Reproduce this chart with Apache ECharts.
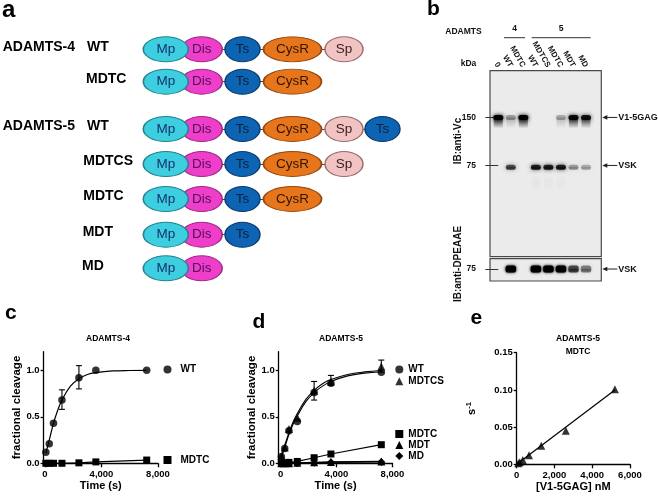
<!DOCTYPE html>
<html><head><meta charset="utf-8">
<script src="https://cdn.jsdelivr.net/npm/echarts@6/dist/echarts.min.js"></script>
<style>html,body{margin:0;padding:0;background:#fff}#c{width:658px;height:499px}</style>
</head><body><div id="c"></div>
<script>
const FONT = "'Liberation Sans', Arial, Helvetica, sans-serif";

// ---------- Panel a : domain organisation ----------
const domainKeys = ['Mp','Dis','Ts','CysR','Sp','Ts'];
const domainPos = [165.8, 201.7, 242.5, 292.5, 344, 382.5];
const constructFamily = ['ADAMTS-4','','ADAMTS-5','','','',''];
const constructName = ['WT','MDTC','WT','MDTCS','MDTC','MDT','MD'];
const constructRow = [49.3, 81.7, 129, 164, 199, 234.7, 268.3];
const constructDomains = [5,4,6,5,4,3,2];

// ---------- Panel b : western blot ----------
const laneNames = ['0','WT','MDTC','WT','MDTCS','MDTC','MDT','MD'];
const markerKDa = [150, 75];
const bandV1 = [1.0, 0.3, 1.0, 0, 0, 0.25, 0.92, 0.85];
const bandVSK = [0, 0.6, 0, 0.8, 0.8, 0.8, 0.3, 0.25];
const bandFaint = [0, 0, 0, 0.018, 0.015, 0.015, 0, 0];
const bandDPEAAE = [0, 1.0, 0, 1.0, 1.0, 1.0, 0.6, 0.4];
const rightLabelsVc = ['V1-5GAG', 'VSK'];
const rightLabelsDP = ['VSK'];

// ---------- Panel c : ADAMTS-4 ----------
const cTime = [60, 300, 600, 1200, 2400, 3600, 7200];
const cWT = [0.12, 0.21, 0.43, 0.68, 0.92, 1.0, 1.0];
const cMDTC = [0, 0, 0, 0, 0.005, 0.015, 0.035];
const cWTErr = [[1200, 0.58, 0.79], [2400, 0.80, 1.05]];
const cFitT = [60, 300, 600, 900, 1200, 1800, 2400, 3000, 3600, 4800, 6000, 7200];
const cFitY = [0.11, 0.25, 0.43, 0.57, 0.68, 0.83, 0.91, 0.955, 0.975, 0.993, 0.998, 1.0];

// ---------- Panel d : ADAMTS-5 ----------
const dTime = [60, 300, 600, 1200, 2400, 3600, 7200];
const dWT = [0.07, 0.16, 0.35, 0.45, 0.76, 0.86, 0.98];
const dMDTCS = [0.08, 0.17, 0.37, 0.49, 0.78, 0.88, 1.04];
const dMDTC = [0, 0.005, 0.01, 0.02, 0.06, 0.1, 0.2];
const dMDT = [0, 0, 0, 0.005, 0.01, 0.015, 0.02];
const dMD = [0, 0, 0, 0, 0.005, 0.01, 0.015];
const dErr = [[2400, 0.68, 0.88], [3600, 0.84, 0.945], [7200, 0.98, 1.11]];
const dFitT = [60, 300, 600, 900, 1200, 1800, 2400, 3000, 3600, 4800, 6000, 7200];
const dFitWT = [0.06, 0.17, 0.31, 0.42, 0.51, 0.66, 0.76, 0.83, 0.88, 0.94, 0.97, 0.985];
const dFitMDTCS = [0.075, 0.19, 0.33, 0.445, 0.535, 0.685, 0.785, 0.855, 0.9, 0.955, 0.983, 0.998];

// ---------- Panel e : kcat/Km ----------
const eConc = [81, 163, 325, 650, 1300, 2600, 5200];
const eRate = [0.0013, 0.0027, 0.0058, 0.012, 0.025, 0.045, 0.101];
const eFitX = [0, 5200];
const eFitY = [0, 0.1];

// ----- tick values -----
const timeTicks = [0, 4000, 8000];
const fracTicks = [0, 0.5, 1.0];
const concTicks = [0, 2000, 4000, 6000];
const rateTicks = [0, 0.05, 0.10, 0.15];

// ---------- styles ----------
const domStyle = [
  {w:45,h:25,fill:'#3DCFE0',stroke:'#23838f',text:'#17306e'},
  {w:41,h:25,fill:'#EF3EC9',stroke:'#9d2b86',text:'#4e0f5a'},
  {w:35,h:25,fill:'#0C64B2',stroke:'#0a3a6e',text:'#0b1f3f'},
  {w:58,h:25,fill:'#E7751C',stroke:'#93480f',text:'#2e1505'},
  {w:38,h:25,fill:'#F1C3C3',stroke:'#9c6b6b',text:'#3b1d1d'},
  {w:35,h:25,fill:'#0C64B2',stroke:'#0a3a6e',text:'#0b1f3f'}
];
const ELLIPSE = 'path://M0,25C0,11.19 22.39,0 50,0C77.61,0 100,11.19 100,25C100,38.81 77.61,50 50,50C22.39,50 0,38.81 0,25Z';
const zip = (a, b) => a.map((v, i) => [v, b[i]]);
const log10 = Math.log10;
const BK = '#000';

const domainOrder = [1, 0, 2, 3, 4, 5];
const domainSeries = domainOrder.map(d => {
  const st = domStyle[d];
  const data = [];
  constructRow.forEach((y, r) => { if (constructDomains[r] > d) data.push([domainPos[d], y]); });
  return {
    type: 'scatter', xAxisIndex: 0, yAxisIndex: 0, silent: true,
    symbol: ELLIPSE, symbolSize: [st.w, st.h], data,
    itemStyle: {color: st.fill, borderColor: st.stroke, borderWidth: 1.2, opacity: 1},
    label: {show: true, position: 'inside', formatter: domainKeys[d], color: st.text,
      fontSize: 13.5, fontFamily: FONT},
    z: 3
  };
});
const connectorSeries = {
  type: 'lines', coordinateSystem: 'cartesian2d', xAxisIndex: 0, yAxisIndex: 0, silent: true,
  data: constructRow.map((y, r) => ({coords: [[domainPos[1], y], [domainPos[constructDomains[r]-1], y]]})),
  lineStyle: {color: '#444', width: 1, opacity: 1}, z: 2
};

function bandData(arr, kda, kind) { return arr.map((a, i) => [i, log10(kda), a, kind]); }
function renderBand(params, api) {
  const a = api.value(2), kind = api.value(3);
  if (!(a > 0)) return null;
  const p = api.coord([api.value(0), api.value(1)]);
  const ch = [];
  const rgba = al => 'rgba(0,0,0,' + Math.min(1, al) + ')';
  if (kind === 3) {
    ch.push({type:'rect', shape:{x:p[0]-4.5, y:p[1]-4, width:9, height:12, r:3},
      style:{fill:rgba(a), shadowBlur:6, shadowColor:rgba(a)}});
    return {type:'group', children: ch};
  }
  let w = 10, h = 5, smear = 3, blur = 4;
  if (kind === 0) { smear = 11; }
  if (kind === 2) { w = 10.5; h = 7; smear = 4; blur = 3; }
  ch.push({type:'rect', shape:{x:p[0]-w/2+0.5, y:p[1], width:w-1, height:smear},
    style:{fill:{type:'linear', x:0, y:0, x2:0, y2:1, colorStops:[
      {offset:0, color:rgba(0.75*a)}, {offset:1, color:'rgba(0,0,0,0)'}]},
      shadowBlur:4, shadowColor:rgba(0.4*a)}});
  ch.push({type:'rect', shape:{x:p[0]-w/2, y:p[1]-h/2, width:w, height:h, r:2.5},
    style:{fill:rgba(a), shadowBlur:blur, shadowColor:rgba(a)}});
  return {type:'group', children: ch};
}
function rightLabelRenderer(names) {
  return function (params, api) {
    const p = api.coord([api.value(0), api.value(1)]);
    const x = p[0], y = p[1];
    return {type:'group', children:[
      {type:'line', shape:{x1:x+3, y1:y, x2:x+16, y2:y}, style:{stroke:'#222', lineWidth:1}},
      {type:'polygon', shape:{points:[[x+1,y],[x+6,y-2.3],[x+6,y+2.3]]}, style:{fill:'#222'}},
      {type:'text', style:{x:x+17, y:y, text:names[params.dataIndex], fill:'#111',
        font:'bold 9px '+FONT, verticalAlign:'middle', align:'left'}}
    ]};
  };
}
function renderErr(params, api) {
  const t = api.value(0);
  const lo = api.coord([t, api.value(1)]), hi = api.coord([t, api.value(2)]);
  const s = {stroke: BK, lineWidth: 1.1};
  return {type:'group', children:[
    {type:'line', shape:{x1:lo[0], y1:lo[1], x2:hi[0], y2:hi[1]}, style:s},
    {type:'line', shape:{x1:lo[0]-3, y1:lo[1], x2:lo[0]+3, y2:lo[1]}, style:s},
    {type:'line', shape:{x1:hi[0]-3, y1:hi[1], x2:hi[0]+3, y2:hi[1]}, style:s}
  ]};
}

const axisLineS = {onZero:false, lineStyle:{color:BK, width:1.3}};
const tickS = (vals, len) => ({show:true, customValues: vals, length: len, lineStyle:{color:BK, width:1.3}});
const labelS = (vals, fmt, margin) => ({customValues: vals, formatter: fmt, fontSize: 9.5, fontWeight:'bold',
  color: BK, fontFamily: FONT, margin: margin});
const nameS = {fontSize: 11, fontWeight: 'bold', color: BK, fontFamily: FONT};
const thousands = v => v === 0 ? '0' : v.toLocaleString('en-US');
const hidden = {show:false};

const legendBase = {padding:0, itemWidth:8, itemHeight:8, selectedMode:false, orient:'vertical',
  textStyle:{fontSize:10, fontWeight:'bold', color:BK, fontFamily:FONT}};

const option = {
  animation: false,
  backgroundColor: '#fff',
  textStyle: {fontFamily: FONT},
  grid: [
    {left:0, top:0, width:400, height:300},
    {left:490, top:70.7, width:111.3, height:186, show:true, backgroundColor:'#ebebeb', borderColor:'#4a4a4a', borderWidth:1.2},
    {left:490, top:258.7, width:111.3, height:22.3, show:true, backgroundColor:'#ebebeb', borderColor:'#4a4a4a', borderWidth:1.2},
    {left:43.6, top:351.7, width:114.4, height:111.6},
    {left:278.7, top:351.7, width:113.8, height:111.6},
    {left:516.7, top:352.7, width:113.3, height:111.6}
  ],
  xAxis: [
    {gridIndex:0, type:'value', min:0, max:400, show:false},
    {gridIndex:1, type:'value', position:'top', min:-0.66, max:8.22,
      axisLine:hidden, axisTick:hidden, splitLine:hidden,
      axisLabel:{customValues:[0,1,2,3,4,5,6,7], formatter: v => laneNames[v], rotate:60, margin:4,
        fontSize:8, fontWeight:'bold', color:'#111', fontFamily:FONT}},
    {gridIndex:2, type:'value', min:-0.66, max:8.22, show:false},
    {gridIndex:3, type:'value', min:-100, max:8000, axisLine:axisLineS, axisTick:tickS(timeTicks,4),
      axisLabel:labelS(timeTicks, thousands, 6), splitLine:hidden,
      name:'Time (s)', nameLocation:'middle', nameGap:14, nameTextStyle:nameS},
    {gridIndex:4, type:'value', min:-130, max:8000, axisLine:axisLineS, axisTick:tickS(timeTicks,4),
      axisLabel:labelS(timeTicks, thousands, 6), splitLine:hidden,
      name:'Time (s)', nameLocation:'middle', nameGap:14, nameTextStyle:nameS},
    {gridIndex:5, type:'value', min:0, max:6000, axisLine:axisLineS, axisTick:tickS(concTicks,4),
      axisLabel:labelS(concTicks, thousands, 6), splitLine:hidden,
      name:'[V1-5GAG] nM', nameLocation:'middle', nameGap:14, nameTextStyle:nameS}
  ],
  yAxis: [
    {gridIndex:0, type:'value', min:0, max:300, inverse:true, show:false},
    {gridIndex:1, type:'value', min:1.303, max:2.469, axisLine:hidden, splitLine:hidden,
      axisTick:{show:true, customValues: markerKDa.map(log10), length:13, lineStyle:{color:'#333', width:1}},
      axisLabel:{customValues: markerKDa.map(log10), formatter: v => String(Math.round(Math.pow(10, v))),
        margin:14, fontSize:8.5, fontWeight:'bold', color:'#111', fontFamily:FONT}},
    {gridIndex:2, type:'value', min:1.80, max:1.94, axisLine:hidden, splitLine:hidden,
      axisTick:{show:true, customValues:[log10(75)], length:13, lineStyle:{color:'#333', width:1}},
      axisLabel:{customValues:[log10(75)], formatter: v => String(Math.round(Math.pow(10, v))),
        margin:14, fontSize:8.5, fontWeight:'bold', color:'#111', fontFamily:FONT}},
    {gridIndex:3, type:'value', min:0, max:1.2, axisLine:axisLineS, axisTick:tickS(fracTicks,3),
      axisLabel:labelS(fracTicks, v => v.toFixed(1), 4), splitLine:hidden,
      name:'fractional cleavage', nameLocation:'middle', nameGap:20, nameTextStyle:{...nameS, fontSize:11.5}},
    {gridIndex:4, type:'value', min:0, max:1.2, axisLine:axisLineS, axisTick:tickS(fracTicks,3),
      axisLabel:labelS(fracTicks, v => v.toFixed(1), 4), splitLine:hidden,
      name:'fractional cleavage', nameLocation:'middle', nameGap:17, nameTextStyle:{...nameS, fontSize:11.5}},
    {gridIndex:5, type:'value', min:0, max:0.15, axisLine:axisLineS, axisTick:tickS(rateTicks,3),
      axisLabel:labelS(rateTicks, v => v.toFixed(2), 4), splitLine:hidden,
      name:'{s|s}{sup|-1}', nameLocation:'middle', nameGap:38,
      nameTextStyle:{...nameS, rich:{s:{fontSize:11, fontWeight:'bold', fontFamily:FONT},
        sup:{fontSize:7.5, fontWeight:'bold', fontFamily:FONT, verticalAlign:'top', padding:[0,0,6,0]}}}}
  ],
  legend: [
    {...legendBase, data:[{name:'WT', icon:'circle'}], left:163.5, top:364.5,
      textStyle:{...legendBase.textStyle, padding:[0,0,0,4]}},
    {...legendBase, data:[{name:'MDTC', icon:'rect'}], left:163.5, top:455,
      textStyle:{...legendBase.textStyle, padding:[0,0,0,4]}},
    {...legendBase, data:[{name:'WT', icon:'circle'}, {name:'MDTCS', icon:'triangle'}], left:395.3, top:364.5, itemGap:1.8},
    {...legendBase, data:[{name:'MDTC', icon:'rect'}, {name:'MDT', icon:'triangle'}, {name:'MD', icon:'diamond'}],
      left:395.3, top:429, itemGap:1}
  ],
  graphic: [
    {type:'text', style:{x:2, y:10, text:'a', font:'bold 24px '+FONT, fill:BK, verticalAlign:'middle'}},
    {type:'text', style:{x:427, y:9.5, text:'b', font:'bold 21px '+FONT, fill:BK, verticalAlign:'middle'}},
    {type:'text', style:{x:5, y:313.5, text:'c', font:'bold 21px '+FONT, fill:BK, verticalAlign:'middle'}},
    {type:'text', style:{x:252.5, y:322, text:'d', font:'bold 21px '+FONT, fill:BK, verticalAlign:'middle'}},
    {type:'text', style:{x:470.5, y:318, text:'e', font:'bold 21px '+FONT, fill:BK, verticalAlign:'middle'}},
    ...constructRow.flatMap((y, r) => {
      const out = [];
      const ly = y - 2.5;
      if (constructFamily[r]) out.push({type:'text', style:{x:2.7, y:ly, text:constructFamily[r], font:'bold 14px '+FONT, fill:BK, verticalAlign:'middle'}});
      const nx = constructFamily[r] ? 87 : [86, 86, 86, 83.3, 83.3, 82.7, 82][r];
      out.push({type:'text', style:{x:nx, y:ly, text:constructName[r], font:'bold 14px '+FONT, fill:BK, verticalAlign:'middle'}});
      return out;
    }),
    {type:'text', x:458, y:141, rotation:Math.PI/2, style:{x:0, y:0, text:'IB:anti-Vc', font:'bold 10px '+FONT, fill:'#111', align:'center', verticalAlign:'middle'}},
    {type:'text', x:458, y:264, rotation:Math.PI/2, style:{x:0, y:0, text:'IB:anti-DPEAAE', font:'bold 10px '+FONT, fill:'#111', align:'center', verticalAlign:'middle'}},
    {type:'text', style:{x:463.5, y:31.5, text:'ADAMTS', font:'bold 8.5px '+FONT, fill:'#111', align:'center', verticalAlign:'middle'}},
    {type:'text', style:{x:514.5, y:29, text:'4', font:'bold 8.5px '+FONT, fill:'#111', align:'center', verticalAlign:'middle'}},
    {type:'text', style:{x:561, y:29, text:'5', font:'bold 8.5px '+FONT, fill:'#111', align:'center', verticalAlign:'middle'}},
    {type:'line', shape:{x1:504, y1:37.7, x2:525, y2:37.7}, style:{stroke:'#333', lineWidth:1}},
    {type:'line', shape:{x1:531.7, y1:37.7, x2:590.7, y2:37.7}, style:{stroke:'#333', lineWidth:1}},
    {type:'text', style:{x:468.5, y:63.3, text:'kDa', font:'bold 8.5px '+FONT, fill:'#111', align:'center', verticalAlign:'middle'}},
    {type:'text', style:{x:108, y:339, text:'ADAMTS-4', font:'bold 8.5px '+FONT, fill:BK, align:'center', verticalAlign:'middle'}},
    {type:'text', style:{x:341, y:339, text:'ADAMTS-5', font:'bold 8.5px '+FONT, fill:BK, align:'center', verticalAlign:'middle'}},
    {type:'text', style:{x:578, y:339, text:'ADAMTS-5', font:'bold 8.5px '+FONT, fill:BK, align:'center', verticalAlign:'middle'}},
    {type:'text', style:{x:578, y:351.7, text:'MDTC', font:'bold 8.5px '+FONT, fill:BK, align:'center', verticalAlign:'middle'}}
  ],
  series: [
    connectorSeries,
    ...domainSeries,
    {type:'custom', xAxisIndex:1, yAxisIndex:1, silent:true, renderItem: renderBand, clip:true,
      data:[...bandData(bandV1, 150, 0), ...bandData(bandVSK, 73, 1), ...bandData(bandFaint, 60, 3)]},
    {type:'custom', xAxisIndex:2, yAxisIndex:2, silent:true, renderItem: renderBand, clip:true,
      data: bandData(bandDPEAAE, 75, 2)},
    {type:'custom', xAxisIndex:1, yAxisIndex:1, silent:true, renderItem: rightLabelRenderer(rightLabelsVc),
      data: markerKDa.map(k => [8.22, log10(k)])},
    {type:'custom', xAxisIndex:2, yAxisIndex:2, silent:true, renderItem: rightLabelRenderer(rightLabelsDP),
      data: [[8.22, log10(75)]]},
    {type:'line', name:'c WT fit', xAxisIndex:3, yAxisIndex:3, data: zip(cFitT, cFitY), smooth:0.4,
      showSymbol:false, lineStyle:{color:BK, width:1.2}, silent:true},
    {type:'custom', name:'c err', xAxisIndex:3, yAxisIndex:3, renderItem: renderErr, data: cWTErr, silent:true},
    {type:'scatter', name:'WT', xAxisIndex:3, yAxisIndex:3, data: zip(cTime, cWT), symbol:'circle', symbolSize:7.5,
      itemStyle:{color:BK}, silent:true},
    {type:'line', name:'MDTC', xAxisIndex:3, yAxisIndex:3, data: zip(cTime, cMDTC), symbol:'rect', symbolSize:7,
      showSymbol:true, itemStyle:{color:BK}, lineStyle:{color:BK, width:1.2}, silent:true},
    {type:'line', name:'d WT fit', xAxisIndex:4, yAxisIndex:4, data: zip(dFitT, dFitWT), smooth:0.4,
      showSymbol:false, lineStyle:{color:BK, width:1.1}, silent:true},
    {type:'line', name:'d MDTCS fit', xAxisIndex:4, yAxisIndex:4, data: zip(dFitT, dFitMDTCS), smooth:0.4,
      showSymbol:false, lineStyle:{color:BK, width:1.1}, silent:true},
    {type:'custom', name:'d err', xAxisIndex:4, yAxisIndex:4, renderItem: renderErr, data: dErr, silent:true},
    {type:'scatter', name:'WT', xAxisIndex:4, yAxisIndex:4, data: zip(dTime, dWT), symbol:'circle', symbolSize:7.5,
      itemStyle:{color:BK}, silent:true},
    {type:'scatter', name:'MDTCS', xAxisIndex:4, yAxisIndex:4, data: zip(dTime, dMDTCS), symbol:'triangle', symbolSize:8,
      itemStyle:{color:BK}, silent:true},
    {type:'line', name:'MDTC', xAxisIndex:4, yAxisIndex:4, data: zip(dTime, dMDTC), symbol:'rect', symbolSize:7,
      showSymbol:true, itemStyle:{color:BK}, lineStyle:{color:BK, width:1.2}, silent:true},
    {type:'line', name:'MDT', xAxisIndex:4, yAxisIndex:4, data: zip(dTime, dMDT), symbol:'triangle', symbolSize:8,
      showSymbol:true, itemStyle:{color:BK}, lineStyle:{color:BK, width:1.2}, silent:true},
    {type:'line', name:'MD', xAxisIndex:4, yAxisIndex:4, data: zip(dTime, dMD), symbol:'diamond', symbolSize:8,
      showSymbol:true, itemStyle:{color:BK}, lineStyle:{color:BK, width:1.2}, silent:true},
    {type:'line', name:'e fit', xAxisIndex:5, yAxisIndex:5, data: zip(eFitX, eFitY), showSymbol:false,
      lineStyle:{color:BK, width:1.2}, silent:true},
    {type:'scatter', name:'ADAMTS-5 MDTC', xAxisIndex:5, yAxisIndex:5, data: zip(eConc, eRate), symbol:'triangle',
      symbolSize:8, itemStyle:{color:BK}, silent:true}
  ]
};
const chart = echarts.init(document.getElementById('c'), null, {renderer:'canvas', width:658, height:499});
chart.setOption(option);
</script>
</body></html>
